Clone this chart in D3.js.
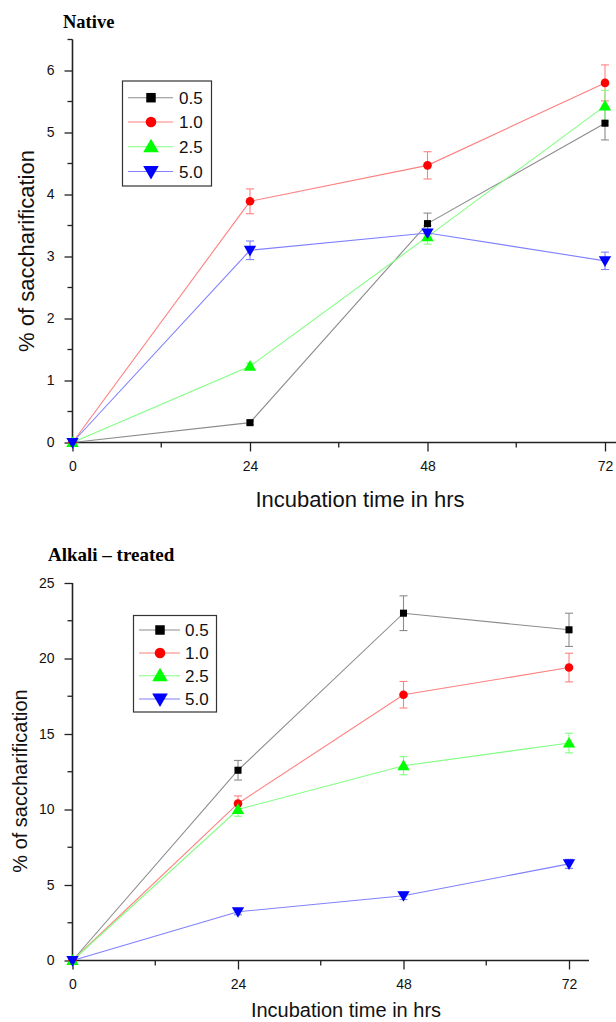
<!DOCTYPE html>
<html><head><meta charset="utf-8">
<script src="https://cdn.jsdelivr.net/npm/d3@7"></script>
<style>body{margin:0;background:#fff}svg{display:block}</style>
</head><body>
<svg id="chart" width="616" height="1022"></svg>
<script>
// ---- data ----
const hours = [0, 24, 48, 72];
const seriesNames = ["0.5", "1.0", "2.5", "5.0"];

const native05 = [0, 0.32, 3.53, 5.15];
const native05Err = [0, 0.03, 0.17, 0.27];
const native10 = [0, 3.89, 4.47, 5.80];
const native10Err = [0, 0.20, 0.22, 0.29];
const native25 = [0, 1.23, 3.32, 5.43];
const native25Err = [0, 0.05, 0.12, 0.25];
const native50 = [0, 3.10, 3.38, 2.93];
const native50Err = [0, 0.15, 0.12, 0.14];

const alkali05 = [0, 12.6, 23.0, 21.9];
const alkali05Err = [0, 0.65, 1.15, 1.1];
const alkali10 = [0, 10.4, 17.6, 19.4];
const alkali10Err = [0, 0.5, 0.88, 0.95];
const alkali25 = [0, 10.0, 12.9, 14.4];
const alkali25Err = [0, 0.45, 0.6, 0.65];
const alkali50 = [0, 3.23, 4.29, 6.4];
const alkali50Err = [0, 0.2, 0.25, 0.3];

const xTicks = [0, 24, 48, 72];
const nativeYTicks = [0, 1, 2, 3, 4, 5, 6];
const alkaliYTicks = [0, 5, 10, 15, 20, 25];

// ---- styles ----
const markerColors = ["#000000", "#ff0000", "#00ff00", "#0000ff"];
const lineColors = ["#8c8c8c", "#ff8080", "#80ff80", "#8080ff"];
const symbols = [d3.symbolSquare, d3.symbolCircle, d3.symbolTriangle, d3.symbolTriangle];
const rotations = [0, 0, 0, 180];
const symSizes = [50, 58, 66, 66];
const legSizes = [90, 88, 105, 105];

const svg = d3.select("#chart");
const AX = "#222";
const SANS = "Liberation Sans, Arial, sans-serif";

function panel(cfg) {
  const g = svg.append("g");
  const x = d3.scaleLinear().domain([0, 72]).range([cfg.x0, cfg.x72]);
  const y = d3.scaleLinear().domain([0, cfg.yMax]).range([cfg.y0, cfg.yTop]);

  // minor ticks
  const minorY = d3.range(cfg.minorStep, cfg.yTopVal + 1e-9, cfg.minorStep).filter(v => !cfg.yTicks.includes(v));
  g.selectAll(".my").data(minorY).join("line")
    .attr("x1", cfg.x0 - 5).attr("x2", cfg.x0).attr("y1", d => y(d)).attr("y2", d => y(d))
    .attr("stroke", AX).attr("stroke-width", 1.3);
  const minorX = [12, 36, 60];
  g.selectAll(".mx").data(minorX).join("line")
    .attr("x1", d => x(d)).attr("x2", d => x(d)).attr("y1", cfg.y0).attr("y2", cfg.y0 + 5)
    .attr("stroke", AX).attr("stroke-width", 1.3);

  // axes
  const ya = g.append("g").attr("transform", `translate(${cfg.x0},0)`)
    .call(d3.axisLeft(y).tickValues(cfg.yTicks).tickFormat(d3.format("d")).tickSize(8).tickPadding(10).tickSizeOuter(0));
  ya.select(".domain").remove();
  const xa = g.append("g").attr("transform", `translate(0,${cfg.y0})`)
    .call(d3.axisBottom(x).tickValues(xTicks).tickFormat(d3.format("d")).tickSize(9).tickPadding(10).tickSizeOuter(0));
  xa.select(".domain").remove();
  [ya, xa].forEach(a => {
    a.selectAll("line").attr("stroke", AX).attr("stroke-width", 1.3);
    a.selectAll("text").attr("font-family", SANS).attr("font-size", 14).attr("fill", "#111");
  });
  g.append("line").attr("x1", cfg.x0).attr("x2", cfg.x0).attr("y1", y(cfg.yTopVal)).attr("y2", cfg.y0 + 0.7)
    .attr("stroke", AX).attr("stroke-width", 1.6);
  g.append("line").attr("x1", cfg.x0).attr("x2", cfg.xEnd).attr("y1", cfg.y0).attr("y2", cfg.y0)
    .attr("stroke", AX).attr("stroke-width", 1.6);

  // series
  cfg.series.forEach((s, i) => {
    const pts = hours.map((h, j) => ({ h, v: s.vals[j], e: s.err[j] }));
    g.append("path").datum(pts)
      .attr("d", d3.line().x(d => x(d.h)).y(d => y(d.v)))
      .attr("fill", "none").attr("stroke", lineColors[i]).attr("stroke-width", 1.1);
    const eb = g.append("g");
    pts.filter(d => d.e > 0).forEach(d => {
      const cx = x(d.h);
      eb.append("line").attr("x1", cx).attr("x2", cx).attr("y1", y(d.v - d.e)).attr("y2", y(d.v + d.e));
      eb.append("line").attr("x1", cx - 4).attr("x2", cx + 4).attr("y1", y(d.v - d.e)).attr("y2", y(d.v - d.e));
      eb.append("line").attr("x1", cx - 4).attr("x2", cx + 4).attr("y1", y(d.v + d.e)).attr("y2", y(d.v + d.e));
    });
    eb.selectAll("line").attr("stroke", lineColors[i]).attr("stroke-width", 1.1);
  });
  cfg.series.forEach((s, i) => {
    g.selectAll(null).data(hours.map((h, j) => ({ h, v: s.vals[j] }))).join("path")
      .attr("d", d3.symbol().type(symbols[i]).size(symSizes[i]))
      .attr("transform", d => `translate(${x(d.h)},${y(d.v) + (i >= 2 ? (i === 3 ? -1 : 1) : 0)}) rotate(${rotations[i]})`)
      .attr("fill", markerColors[i]);
  });

  // titles
  g.append("text").attr("x", cfg.titleX).attr("y", cfg.titleY).text(cfg.title)
    .attr("font-family", "Liberation Serif, Times New Roman, serif").attr("font-weight", "bold").attr("font-size", cfg.titleSize).attr("fill", "#000");
  g.append("text").attr("x", cfg.xlabX).attr("y", cfg.xlabY).attr("text-anchor", "middle").text("Incubation time in hrs")
    .attr("font-family", SANS).attr("font-size", cfg.labSize).attr("fill", "#111");
  g.append("text").attr("transform", `translate(${cfg.ylabX},${cfg.ylabY}) rotate(-90)`).attr("text-anchor", "middle")
    .text("% of saccharification")
    .attr("font-family", SANS).attr("font-size", cfg.labSize).attr("fill", "#111");

  // legend
  const L = cfg.legend;
  g.append("rect").attr("x", L.x).attr("y", L.y).attr("width", L.w).attr("height", L.h)
    .attr("fill", "#fff").attr("stroke", "#333").attr("stroke-width", 1.2);
  seriesNames.forEach((n, i) => {
    const yy = L.rows[i];
    g.append("line").attr("x1", L.l1).attr("x2", L.l2).attr("y1", yy).attr("y2", yy)
      .attr("stroke", lineColors[i]).attr("stroke-width", 1.1);
    g.append("path").attr("d", d3.symbol().type(symbols[i]).size(legSizes[i])())
      .attr("transform", `translate(${L.mx},${yy + (i >= 2 ? (i === 3 ? -1 : 1) : 0)}) rotate(${rotations[i]})`)
      .attr("fill", markerColors[i]);
    g.append("text").attr("x", L.tx).attr("y", yy).attr("dy", "0.36em").text(n)
      .attr("font-family", SANS).attr("font-size", 17).attr("fill", "#111");
  });
}

panel({
  x0: 72.5, x72: 605, xEnd: 616, y0: 442.5, yTop: 39.5, yMax: 6.5, yTopVal: 6.5,
  yTicks: nativeYTicks, minorStep: 0.5,
  title: "Native", titleX: 63, titleY: 28, titleSize: 18.5,
  labSize: 22,
  xlabX: 360, xlabY: 507, ylabX: 34, ylabY: 251,
  series: [
    { vals: native05, err: native05Err }, { vals: native10, err: native10Err },
    { vals: native25, err: native25Err }, { vals: native50, err: native50Err }
  ],
  legend: { x: 122.5, y: 81, w: 89, h: 105, rows: [97.7, 122, 146.7, 171.5], l1: 128, l2: 173, mx: 151, tx: 179 }
});

panel({
  x0: 72.5, x72: 569, xEnd: 589, y0: 960.5, yTop: 583, yMax: 25, yTopVal: 25,
  yTicks: alkaliYTicks, minorStep: 2.5,
  title: "Alkali – treated", titleX: 48, titleY: 561, titleSize: 19,
  labSize: 20,
  xlabX: 346, xlabY: 1017, ylabX: 27, ylabY: 781,
  series: [
    { vals: alkali05, err: alkali05Err }, { vals: alkali10, err: alkali10Err },
    { vals: alkali25, err: alkali25Err }, { vals: alkali50, err: alkali50Err }
  ],
  legend: { x: 133.5, y: 615.5, w: 83, h: 96.5, rows: [630, 653, 675.7, 699], l1: 139, l2: 180, mx: 160, tx: 185 }
});
</script>
</body></html>
